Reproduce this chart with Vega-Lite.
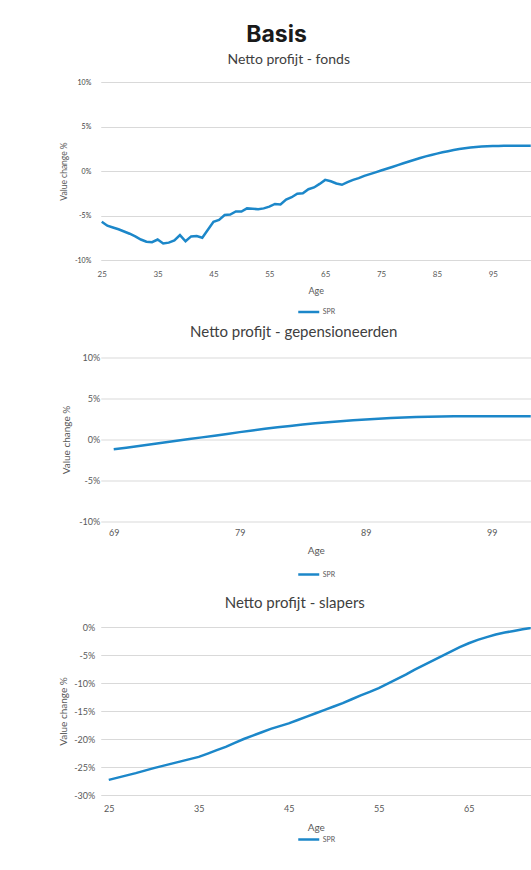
{
  "$schema": "https://vega.github.io/schema/vega-lite/v6.json",
  "background": "white",
  "padding": {"left": 57.75, "top": 24, "right": 0, "bottom": 20},
  "title": {"text": "Basis", "font": "Inter", "fontSize": 23, "fontWeight": 700, "color": "#1a1a1a", "anchor": "middle", "dx": -18, "offset": 6},
  "datasets": {
    "fonds": [
      {"age": 25, "value": -5.7, "series": "SPR"}, {"age": 26, "value": -6.15, "series": "SPR"}, {"age": 27, "value": -6.35, "series": "SPR"}, {"age": 28, "value": -6.55, "series": "SPR"}, {"age": 29, "value": -6.8, "series": "SPR"},
      {"age": 30, "value": -7.05, "series": "SPR"}, {"age": 31, "value": -7.35, "series": "SPR"}, {"age": 32, "value": -7.7, "series": "SPR"}, {"age": 33, "value": -7.95, "series": "SPR"}, {"age": 34, "value": -8.0, "series": "SPR"},
      {"age": 35, "value": -7.7, "series": "SPR"}, {"age": 36, "value": -8.15, "series": "SPR"}, {"age": 37, "value": -8.05, "series": "SPR"}, {"age": 38, "value": -7.8, "series": "SPR"}, {"age": 39, "value": -7.2, "series": "SPR"},
      {"age": 40, "value": -7.9, "series": "SPR"}, {"age": 41, "value": -7.35, "series": "SPR"}, {"age": 42, "value": -7.3, "series": "SPR"}, {"age": 43, "value": -7.5, "series": "SPR"}, {"age": 44, "value": -6.6, "series": "SPR"},
      {"age": 45, "value": -5.7, "series": "SPR"}, {"age": 46, "value": -5.5, "series": "SPR"}, {"age": 47, "value": -4.95, "series": "SPR"}, {"age": 48, "value": -4.9, "series": "SPR"}, {"age": 49, "value": -4.55, "series": "SPR"},
      {"age": 50, "value": -4.55, "series": "SPR"}, {"age": 51, "value": -4.2, "series": "SPR"}, {"age": 52, "value": -4.24, "series": "SPR"}, {"age": 53, "value": -4.3, "series": "SPR"}, {"age": 54, "value": -4.2, "series": "SPR"},
      {"age": 55, "value": -4.0, "series": "SPR"}, {"age": 56, "value": -3.7, "series": "SPR"}, {"age": 57, "value": -3.75, "series": "SPR"}, {"age": 58, "value": -3.2, "series": "SPR"}, {"age": 59, "value": -2.95, "series": "SPR"},
      {"age": 60, "value": -2.55, "series": "SPR"}, {"age": 61, "value": -2.5, "series": "SPR"}, {"age": 62, "value": -2.05, "series": "SPR"}, {"age": 63, "value": -1.85, "series": "SPR"}, {"age": 64, "value": -1.45, "series": "SPR"},
      {"age": 65, "value": -1.0, "series": "SPR"}, {"age": 66, "value": -1.15, "series": "SPR"}, {"age": 67, "value": -1.4, "series": "SPR"}, {"age": 68, "value": -1.55, "series": "SPR"}, {"age": 69, "value": -1.25, "series": "SPR"},
      {"age": 70, "value": -1.0, "series": "SPR"}, {"age": 71, "value": -0.8, "series": "SPR"}, {"age": 72, "value": -0.55, "series": "SPR"}, {"age": 73, "value": -0.35, "series": "SPR"}, {"age": 74, "value": -0.15, "series": "SPR"},
      {"age": 75, "value": 0.05, "series": "SPR"}, {"age": 76, "value": 0.25, "series": "SPR"}, {"age": 77, "value": 0.45, "series": "SPR"}, {"age": 78, "value": 0.66, "series": "SPR"}, {"age": 79, "value": 0.87, "series": "SPR"},
      {"age": 80, "value": 1.07, "series": "SPR"}, {"age": 81, "value": 1.27, "series": "SPR"}, {"age": 82, "value": 1.46, "series": "SPR"}, {"age": 83, "value": 1.64, "series": "SPR"}, {"age": 84, "value": 1.8, "series": "SPR"},
      {"age": 85, "value": 1.95, "series": "SPR"}, {"age": 86, "value": 2.1, "series": "SPR"}, {"age": 87, "value": 2.23, "series": "SPR"}, {"age": 88, "value": 2.35, "series": "SPR"}, {"age": 89, "value": 2.46, "series": "SPR"},
      {"age": 90, "value": 2.55, "series": "SPR"}, {"age": 91, "value": 2.63, "series": "SPR"}, {"age": 92, "value": 2.7, "series": "SPR"}, {"age": 93, "value": 2.75, "series": "SPR"}, {"age": 94, "value": 2.78, "series": "SPR"},
      {"age": 95, "value": 2.8, "series": "SPR"}, {"age": 96, "value": 2.82, "series": "SPR"}, {"age": 97, "value": 2.83, "series": "SPR"}, {"age": 98, "value": 2.84, "series": "SPR"}, {"age": 99, "value": 2.84, "series": "SPR"},
      {"age": 100, "value": 2.84, "series": "SPR"}, {"age": 101, "value": 2.84, "series": "SPR"}, {"age": 102, "value": 2.84, "series": "SPR"}, {"age": 103, "value": 2.84, "series": "SPR"}
    ],
    "gepensioneerden": [
      {"age": 69, "value": -1.2, "series": "SPR"}, {"age": 70, "value": -1.0, "series": "SPR"}, {"age": 71, "value": -0.8, "series": "SPR"}, {"age": 72, "value": -0.58, "series": "SPR"}, {"age": 73, "value": -0.37, "series": "SPR"}, {"age": 74, "value": -0.16, "series": "SPR"},
      {"age": 75, "value": 0.05, "series": "SPR"}, {"age": 76, "value": 0.26, "series": "SPR"}, {"age": 77, "value": 0.47, "series": "SPR"}, {"age": 78, "value": 0.68, "series": "SPR"}, {"age": 79, "value": 0.9, "series": "SPR"},
      {"age": 80, "value": 1.1, "series": "SPR"}, {"age": 81, "value": 1.3, "series": "SPR"}, {"age": 82, "value": 1.48, "series": "SPR"}, {"age": 83, "value": 1.66, "series": "SPR"}, {"age": 84, "value": 1.82, "series": "SPR"},
      {"age": 85, "value": 1.97, "series": "SPR"}, {"age": 86, "value": 2.1, "series": "SPR"}, {"age": 87, "value": 2.23, "series": "SPR"}, {"age": 88, "value": 2.35, "series": "SPR"}, {"age": 89, "value": 2.45, "series": "SPR"},
      {"age": 90, "value": 2.54, "series": "SPR"}, {"age": 91, "value": 2.62, "series": "SPR"}, {"age": 92, "value": 2.69, "series": "SPR"}, {"age": 93, "value": 2.74, "series": "SPR"}, {"age": 94, "value": 2.78, "series": "SPR"},
      {"age": 95, "value": 2.81, "series": "SPR"}, {"age": 96, "value": 2.83, "series": "SPR"}, {"age": 97, "value": 2.84, "series": "SPR"}, {"age": 98, "value": 2.85, "series": "SPR"}, {"age": 99, "value": 2.85, "series": "SPR"},
      {"age": 100, "value": 2.85, "series": "SPR"}, {"age": 101, "value": 2.85, "series": "SPR"}, {"age": 102, "value": 2.85, "series": "SPR"}, {"age": 103, "value": 2.85, "series": "SPR"}
    ],
    "slapers": [
      {"age": 25, "value": -27.3, "series": "SPR"}, {"age": 26, "value": -26.9, "series": "SPR"}, {"age": 27, "value": -26.5, "series": "SPR"}, {"age": 28, "value": -26.1, "series": "SPR"}, {"age": 29, "value": -25.65, "series": "SPR"},
      {"age": 30, "value": -25.2, "series": "SPR"}, {"age": 31, "value": -24.8, "series": "SPR"}, {"age": 32, "value": -24.4, "series": "SPR"}, {"age": 33, "value": -24.0, "series": "SPR"}, {"age": 34, "value": -23.6, "series": "SPR"},
      {"age": 35, "value": -23.2, "series": "SPR"}, {"age": 36, "value": -22.6, "series": "SPR"}, {"age": 37, "value": -22.0, "series": "SPR"}, {"age": 38, "value": -21.4, "series": "SPR"}, {"age": 39, "value": -20.7, "series": "SPR"},
      {"age": 40, "value": -20.0, "series": "SPR"}, {"age": 41, "value": -19.4, "series": "SPR"}, {"age": 42, "value": -18.8, "series": "SPR"}, {"age": 43, "value": -18.2, "series": "SPR"}, {"age": 44, "value": -17.7, "series": "SPR"},
      {"age": 45, "value": -17.2, "series": "SPR"}, {"age": 46, "value": -16.6, "series": "SPR"}, {"age": 47, "value": -16.0, "series": "SPR"}, {"age": 48, "value": -15.4, "series": "SPR"}, {"age": 49, "value": -14.8, "series": "SPR"},
      {"age": 50, "value": -14.2, "series": "SPR"}, {"age": 51, "value": -13.6, "series": "SPR"}, {"age": 52, "value": -12.9, "series": "SPR"}, {"age": 53, "value": -12.2, "series": "SPR"}, {"age": 54, "value": -11.6, "series": "SPR"},
      {"age": 55, "value": -10.9, "series": "SPR"}, {"age": 56, "value": -10.1, "series": "SPR"}, {"age": 57, "value": -9.3, "series": "SPR"}, {"age": 58, "value": -8.5, "series": "SPR"}, {"age": 59, "value": -7.6, "series": "SPR"},
      {"age": 60, "value": -6.8, "series": "SPR"}, {"age": 61, "value": -6.0, "series": "SPR"}, {"age": 62, "value": -5.2, "series": "SPR"}, {"age": 63, "value": -4.4, "series": "SPR"}, {"age": 64, "value": -3.6, "series": "SPR"},
      {"age": 65, "value": -2.9, "series": "SPR"}, {"age": 66, "value": -2.3, "series": "SPR"}, {"age": 67, "value": -1.8, "series": "SPR"}, {"age": 68, "value": -1.35, "series": "SPR"}, {"age": 69, "value": -1.0, "series": "SPR"},
      {"age": 70, "value": -0.7, "series": "SPR"}, {"age": 71, "value": -0.4, "series": "SPR"}, {"age": 72, "value": -0.15, "series": "SPR"}, {"age": 73, "value": 0.0, "series": "SPR"}
    ]
  },
  "concat": [
    {
      "width": 430, "height": 178,
      "title": {"text": "Netto profijt - fonds", "fontSize": 14, "fontWeight": "normal", "color": "#404040", "offset": 11, "dx": -27},
      "data": {"name": "fonds"},
      "mark": {"type": "line", "clip": true, "strokeWidth": 2.5},
      "encoding": {
        "x": {"field": "age", "type": "quantitative", "scale": {"domain": [24.82, 101.8], "nice": false, "zero": false},
              "axis": {"values": [25, 35, 45, 55, 65, 75, 85, 95], "title": "Age", "grid": false, "labelFontSize": 8, "labelPadding": 10.5, "titleFontSize": 9, "titlePadding": 7.5}},
        "y": {"field": "value", "type": "quantitative", "scale": {"domain": [-10, 10], "nice": false, "zero": false},
              "axis": {"values": [-10, -5, 0, 5, 10], "labelExpr": "datum.value + '%'", "title": "Value change %", "labelFontSize": 7, "labelPadding": 10, "titleFontSize": 8.5, "titlePadding": 6, "labelColor": "#404040"}},
        "color": {"field": "series", "type": "nominal", "scale": {"range": ["#1c87c9"]},
                  "legend": {"title": null, "orient": "none", "legendX": 196, "legendY": 218, "symbolType": "stroke", "symbolSize": 441, "symbolStrokeWidth": 2.5, "labelFontSize": 7, "labelOffset": 2}}
      }
    },
    {
      "width": 430, "height": 164,
      "title": {"text": "Netto profijt - gepensioneerden", "fontSize": 15, "fontWeight": "normal", "color": "#404040", "offset": 13.5, "dx": -22},
      "data": {"name": "gepensioneerden"},
      "mark": {"type": "line", "clip": true, "strokeWidth": 2.5},
      "encoding": {
        "x": {"field": "age", "type": "quantitative", "scale": {"domain": [67.97, 102.1], "nice": false, "zero": false},
              "axis": {"values": [69, 79, 89, 99], "title": "Age", "grid": false, "labelFontSize": 9, "labelPadding": 7, "titleFontSize": 10, "titlePadding": 8}},
        "y": {"field": "value", "type": "quantitative", "scale": {"domain": [-10, 10], "nice": false, "zero": false},
              "axis": {"values": [-10, -5, 0, 5, 10], "labelExpr": "datum.value + '%'", "title": "Value change %", "labelFontSize": 9, "labelPadding": 1, "titleFontSize": 10, "titlePadding": 7.5}},
        "color": {"field": "series", "type": "nominal", "scale": {"range": ["#1c87c9"]},
                  "legend": {"title": null, "orient": "none", "legendX": 187, "legendY": 196, "padding": 9, "symbolType": "stroke", "symbolSize": 441, "symbolStrokeWidth": 2.5, "labelFontSize": 7, "labelOffset": 2}}
      }
    },
    {
      "width": 430, "height": 168,
      "title": {"text": "Netto profijt - slapers", "fontSize": 15, "fontWeight": "normal", "color": "#404040", "offset": 12, "dx": -21},
      "data": {"name": "slapers"},
      "mark": {"type": "line", "clip": true, "strokeWidth": 2.5},
      "encoding": {
        "x": {"field": "age", "type": "quantitative", "scale": {"domain": [24.11, 71.89], "nice": false, "zero": false},
              "axis": {"values": [25, 35, 45, 55, 65], "title": "Age", "grid": false, "labelFontSize": 9, "labelPadding": 9.5, "titleFontSize": 10, "titlePadding": 8.5}},
        "y": {"field": "value", "type": "quantitative", "scale": {"domain": [-30, 0], "nice": false, "zero": false},
              "axis": {"values": [-30, -25, -20, -15, -10, -5, 0], "labelExpr": "datum.value + '%'", "title": "Value change %", "labelFontSize": 9, "labelPadding": 6, "titleFontSize": 10, "titlePadding": 5.5}},
        "color": {"field": "series", "type": "nominal", "scale": {"range": ["#1c87c9"]},
                  "legend": {"title": null, "orient": "none", "legendX": 196, "legendY": 200.5, "symbolType": "stroke", "symbolSize": 441, "symbolStrokeWidth": 2.5, "labelFontSize": 7, "labelOffset": 2}}
      }
    }
  ],
  "columns": 1,
  "align": "none",
  "spacing": 7.5,
  "resolve": {"scale": {"color": "independent"}, "legend": {"color": "independent"}},
  "config": {
    "font": "Lato",
    "view": {"stroke": null},
    "axis": {"domain": false, "ticks": false, "gridColor": "#d9d9d9", "gridWidth": 1, "labelColor": "#595959", "titleColor": "#595959", "titleFontWeight": "normal", "labelFont": "Lato", "titleFont": "Lato"},
    "legend": {"labelColor": "#595959", "labelFont": "Lato", "padding": 0}
  }
}
